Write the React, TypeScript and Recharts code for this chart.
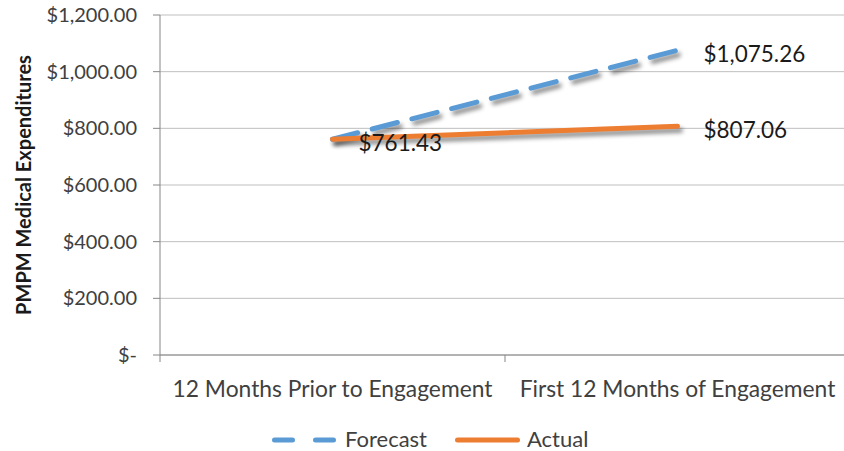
import React from 'react';
import { LineChart, Line, XAxis, YAxis, CartesianGrid, LabelList, Label } from 'recharts';

const categories = ['12 Months Prior to Engagement', 'First 12 Months of Engagement'];
const forecastValues = [761.43, 1075.26];
const actualValues = [761.43, 807.06];
const yTicks = [0, 200, 400, 600, 800, 1000, 1200];

const data = categories.map((c, i) => ({ name: c, forecast: forecastValues[i], actual: actualValues[i] }));

const FONT = 'Lato, "Open Sans", sans-serif';
const BLUE = '#5B9BD5';
const ORANGE = '#ED7D31';
const AXIS = '#868686';
const TEXT = '#404040';

const fmtMoney = (v: number) =>
  v === 0 ? '$-' : '$' + v.toLocaleString('en-US', { minimumFractionDigits: 2, maximumFractionDigits: 2 });

const XTick = (props: any) => {
  const { x, y, payload, index, visibleTicksCount } = props;
  const half = payload && payload.offset ? payload.offset : 172.5;
  const axisY = y - 8;
  return (
    <g>
      <line x1={x - half} x2={x - half} y1={axisY} y2={axisY + 7} stroke={AXIS} strokeWidth={1} />
      {index === visibleTicksCount - 1 && (
        <line x1={x + half} x2={x + half} y1={axisY} y2={axisY + 7} stroke={AXIS} strokeWidth={1} />
      )}
      <text x={x} y={axisY + 33} dominantBaseline="central" textAnchor="middle" fontSize={22.8} fill={TEXT} fontFamily={FONT}>
        {payload.value}
      </text>
    </g>
  );
};

const makeLabel = (onlyIdx: number[] | null) => (props: any) => {
  const { x, y, value, index } = props;
  if (onlyIdx && !onlyIdx.includes(index)) return null;
  return (
    <text x={x + 26} y={y + 3} dominantBaseline="central" fontSize={22.5} fill="#1a1a1a" fontFamily={FONT}>
      {fmtMoney(value)}
    </text>
  );
};

const LegendBox = () => (
  <div
    style={{
      position: 'absolute',
      left: 0,
      top: 427,
      width: 844,
      height: 23,
      fontFamily: FONT,
      fontSize: 22,
      color: TEXT,
      lineHeight: '23px',
    }}
  >
    <svg width={70} height={10} style={{ position: 'absolute', left: 270, top: 8 }}>
      <line x1={4.5} x2={64.5} y1={5} y2={5} stroke={BLUE} strokeWidth={5} strokeDasharray="18 23" strokeLinecap="round" />
    </svg>
    <span style={{ position: 'absolute', left: 345, top: 0 }}>Forecast</span>
    <svg width={70} height={10} style={{ position: 'absolute', left: 453, top: 8 }}>
      <line x1={4.5} x2={64.5} y1={5} y2={5} stroke={ORANGE} strokeWidth={5} strokeLinecap="round" />
    </svg>
    <span style={{ position: 'absolute', left: 527, top: 0 }}>Actual</span>
  </div>
);

export default function App() {
  return (
    <div style={{ position: 'fixed', left: 0, top: 0, width: 844, height: 451, overflow: 'hidden', background: '#fff' }}>
      <style>{`.recharts-line-curve{filter:drop-shadow(3px 4px 2px rgba(0,0,0,0.45));}`}</style>
      <LineChart width={852} height={451} data={data} margin={{ top: 15, right: 2, bottom: 56, left: 0 }}>
        <CartesianGrid vertical={false} stroke="#BFBFBF" strokeWidth={1} />
        <XAxis
          dataKey="name"
          scale="band"
          axisLine={{ stroke: AXIS }}
          tickLine={false}
          tick={<XTick />}
          height={40}
          interval={0}
        />
        <YAxis
          domain={[0, 1200]}
          ticks={yTicks}
          width={160}
          tickFormatter={fmtMoney}
          axisLine={{ stroke: AXIS }}
          tickLine={{ stroke: AXIS }}
          tickSize={7}
          tickMargin={16}
          tick={{ fontSize: 20, fill: TEXT, fontFamily: FONT }}
        >
          <Label
            content={(p: any) => {
              const vb = p.viewBox;
              const cx = vb.x + 23;
              const cy = vb.y + vb.height / 2;
              return (
                <text
                  x={cx}
                  y={cy}
                  transform={`rotate(-90 ${cx} ${cy})`}
                  textAnchor="middle"
                  dominantBaseline="central"
                  fontSize={20}
                  fontWeight="bold"
                  fill="#1a1a1a"
                  fontFamily={FONT}
                >
                  PMPM Medical Expenditures
                </text>
              );
            }}
          />
        </YAxis>
        <Line
          type="linear"
          dataKey="forecast"
          name="Forecast"
          stroke={BLUE}
          strokeWidth={5}
          strokeDasharray="26 15"
          strokeLinecap="round"
          dot={false}
          activeDot={false}
          isAnimationActive={false}
        >
          <LabelList dataKey="forecast" content={makeLabel([1])} />
        </Line>
        <Line
          type="linear"
          dataKey="actual"
          name="Actual"
          stroke={ORANGE}
          strokeWidth={5}
          strokeLinecap="round"
          dot={false}
          activeDot={false}
          isAnimationActive={false}
        >
          <LabelList dataKey="actual" content={makeLabel(null)} />
        </Line>
      </LineChart>
      <LegendBox />
    </div>
  );
}
